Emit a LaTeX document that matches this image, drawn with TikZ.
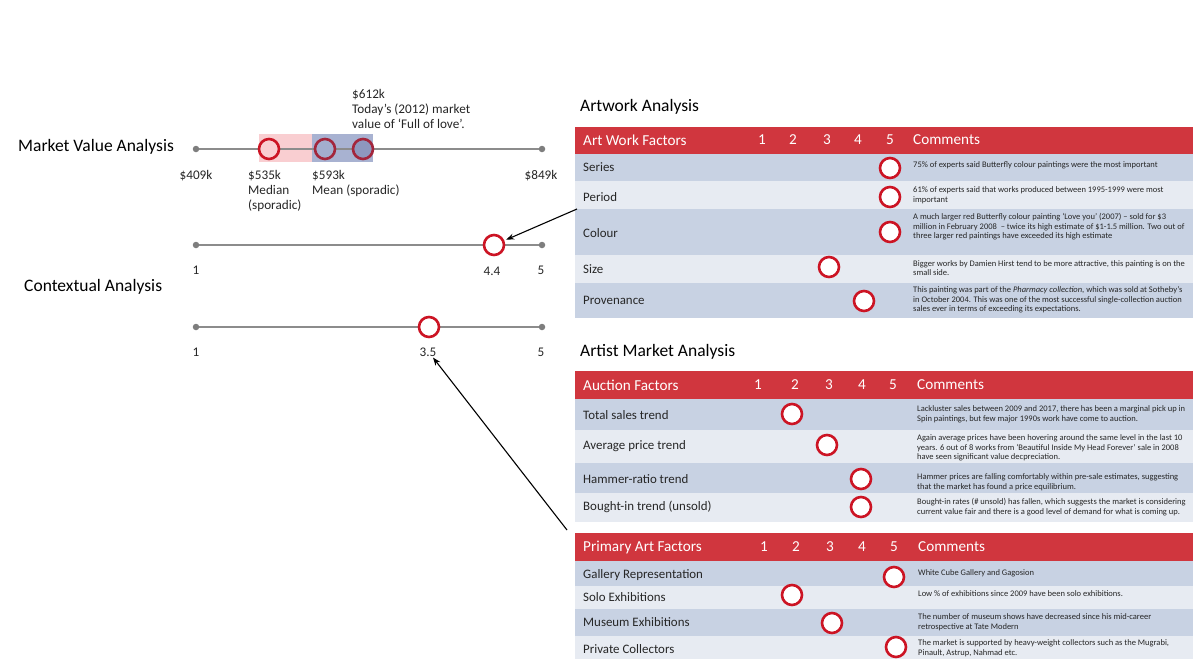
\documentclass[tikz,border=0pt]{standalone}
\usepackage{fontspec}
\setmainfont{Carlito}
\usetikzlibrary{arrows.meta}

\definecolor{hdr}{HTML}{D0363E}
\definecolor{rowA}{HTML}{C8D2E3}
\definecolor{rowB}{HTML}{E7EBF2}
\definecolor{ring}{HTML}{CC1424}
\definecolor{ringdark}{HTML}{A3263C}
\definecolor{axis}{HTML}{8C8C8C}
\definecolor{txt}{HTML}{262626}
\definecolor{pinkband}{HTML}{F9CED1}
\definecolor{blueband}{HTML}{A8B2D1}
\definecolor{bluefill}{HTML}{A3AECE}
\definecolor{bluefilldk}{HTML}{8E98BE}

\tikzset{
  title/.style={anchor=west, inner sep=0, font=\fontsize{17.5}{20}\selectfont, text=black},
  tick/.style={inner sep=0, font=\fontsize{13.2}{15}\selectfont, text=txt},
  dot/.style={circle, fill=axis!90!black, minimum size=6.5pt, inner sep=0},
  axisline/.style={draw=axis, line width=1.6pt},
  ringmark/.style={circle, draw=ring, line width=2.6pt, fill=white, minimum size=20pt, inner sep=0},
  band/.style={anchor=north west, minimum width=618pt, inner sep=0, outer sep=0},
  hdrbox/.style={band, fill=hdr},
  rowa/.style={band, fill=rowA},
  rowb/.style={band, fill=rowB},
  hdrtext/.style={anchor=west, inner sep=0, text=white, font=\fontsize{15.2}{18}\selectfont},
  factor/.style={anchor=west, inner sep=0, text=txt, font=\fontsize{12.9}{15}\selectfont},
  comment/.style={anchor=west, inner sep=0, align=left, text=txt, font=\fontsize{8.5}{9.6}\selectfont},
  pointer/.style={draw=black, line width=1.1pt, -{Stealth[length=8pt,width=6pt]}},
}

\begin{document}
\begin{tikzpicture}[x=1pt,y=-1pt]
\path[use as bounding box] (0,0) rectangle (1195,659);

% ---------------- Market value scale ----------------
\node[title] (mva) at (18,147) {Market Value Analysis};
\fill[pinkband] (259,134) rectangle (312,162);
\fill[blueband] (312,134) rectangle (373,162);
\node[dot] (m0) at (196,149) {};
\node[dot] (m1) at (542,149) {};
\draw[axisline] (m0) -- (m1);
\node[ringmark, fill=pinkband] (median) at (269,149) {};
\node[ringmark, draw=ringdark, fill=bluefill] (mean) at (325,149) {};
\node[ringmark, draw=ringdark, fill=bluefilldk] (today) at (363,149) {};

\node[tick, anchor=north] (l409) at (196,170) {\$409k};
\node[tick, anchor=north west, align=left] (l535) at (248,170) {\$535k\\Median\\(sporadic)};
\node[tick, anchor=north west, align=left] (l593) at (312,170) {\$593k\\Mean (sporadic)};
\node[tick, anchor=north] (l849) at (541,170) {\$849k};
\node[tick, anchor=south west, align=left] (l612) at (352,129) {\$612k\\Today’s (2012) market\\value of ‘Full of love’.};

% ---------------- Contextual scales ----------------
\node[title] (ca) at (24,287) {Contextual Analysis};

\node[dot] (a0) at (196,245) {};
\node[dot] (a1) at (542,245) {};
\draw[axisline] (a0) -- (a1);
\node[ringmark] (c44) at (494,245) {};
\node[tick] (a0l) at (196,270) {1};
\node[tick] (c44l) at (492,271) {4.4};
\node[tick] (a1l) at (541,270) {5};

\node[dot] (b0) at (196,327) {};
\node[dot] (b1) at (542,327) {};
\draw[axisline] (b0) -- (b1);
\node[ringmark] (c35) at (429,327) {};
\node[tick] (b0l) at (196,352) {1};
\node[tick] (c35l) at (428,352) {3.5};
\node[tick] (b1l) at (541,352) {5};

% ---------------- Artwork analysis table ----------------
\node[title] (aa) at (580,107) {Artwork Analysis};
\node[hdrbox, minimum height=27pt] (h1) at (575,127) {};
\node[hdrtext] at (583,140) {Art Work Factors};
\foreach \n/\x in {1/762,2/793,3/827,4/858,5/890}
  \node[hdrtext] at ([xshift=-4pt]\x,140) {\n};
\node[hdrtext] at (913,140) {Comments};

\node[rowa, minimum height=27pt] (series) at (575,154) {};
\node[rowb, minimum height=28pt] (period) at (575,181) {};
\node[rowa, minimum height=46pt] (colour) at (575,209) {};
\node[rowb, minimum height=28pt] (size) at (575,255) {};
\node[rowa, minimum height=35pt] (prov) at (575,283) {};

\node[factor] at (583,167) {Series};
\node[factor] at (583,197) {Period};
\node[factor] at (583,233) {Colour};
\node[factor] at (583,269) {Size};
\node[factor] at (583,300) {Provenance};

\node[ringmark] (s1) at (890,168) {};
\node[ringmark] (s2) at (890,197) {};
\node[ringmark] (s3) at (890,232) {};
\node[ringmark] (s4) at (829,267) {};
\node[ringmark] (s5) at (864,301) {};

\node[comment] at (913,165) {75\% of experts said Butterfly colour paintings were the most important};
\node[comment] at (913,195) {61\% of experts said that works produced between 1995-1999 were most\\important};
\node[comment] at (913,227) {A much larger red Butterfly colour painting ‘Love you’ (2007) – sold for \$3\\million in February 2008 \ – twice its high estimate of \$1-1.5 million. Two out of\\three larger red paintings have exceeded its high estimate};
\node[comment] at (913,268) {Bigger works by Damien Hirst tend to be more attractive, this painting is on the\\small side.};
\node[comment] at (913,300) {This painting was part of the \textit{Pharmacy collection}, which was sold at Sotheby’s\\in October 2004. This was one of the most successful single-collection auction\\sales ever in terms of exceeding its expectations.};

% ---------------- Artist market analysis: auction ----------------
\node[title] (ama) at (580,352) {Artist Market Analysis};
\node[hdrbox, minimum height=28pt] (h2) at (575,371) {};
\node[hdrtext] at (583,385) {Auction Factors};
\foreach \n/\x in {1/758,2/795,3/829,4/862,5/893}
  \node[hdrtext] at ([xshift=-4pt]\x,385) {\n};
\node[hdrtext] at (917,385) {Comments};

\node[rowa, minimum height=31pt] (total) at (575,399) {};
\node[rowb, minimum height=33pt] (avg) at (575,430) {};
\node[rowa, minimum height=30pt] (hammer) at (575,463) {};
\node[rowb, minimum height=29pt] (bought) at (575,493) {};

\node[factor] at (583,415) {Total sales trend};
\node[factor] at (583,446) {Average price trend};
\node[factor] at (583,479) {Hammer-ratio trend};
\node[factor] at (583,507) {Bought-in trend (unsold)};

\node[ringmark] (t1) at (792,414) {};
\node[ringmark] (t2) at (827,445) {};
\node[ringmark] (t3) at (861,479) {};
\node[ringmark] (t4) at (861,507) {};

\node[comment] at (917,414) {Lackluster sales between 2009 and 2017, there has been a marginal pick up in\\Spin paintings, but few major 1990s work have come to auction.};
\node[comment] at (917,448) {Again average prices have been hovering around the same level in the last 10\\years. 6 out of 8 works from ‘Beautiful Inside My Head Forever’ sale in 2008\\have seen significant value decpreciation.};
\node[comment] at (917,482) {Hammer prices are falling comfortably within pre-sale estimates, suggesting\\that the market has found a price equilibrium.};
\node[comment] at (917,507) {Bought-in rates (\# unsold) has fallen, which suggests the market is considering\\current value fair and there is a good level of demand for what is coming up.};

% ---------------- Artist market analysis: primary ----------------
\node[hdrbox, minimum height=28pt] (h3) at (575,533) {};
\node[hdrtext] at (583,547) {Primary Art Factors};
\foreach \n/\x in {1/764,2/796,3/830,4/862,5/894}
  \node[hdrtext] at ([xshift=-4pt]\x,547) {\n};
\node[hdrtext] at (918,547) {Comments};

\node[rowa, minimum height=25pt] (gallery) at (575,561) {};
\node[rowb, minimum height=23pt] (solo) at (575,586) {};
\node[rowa, minimum height=27pt] (museum) at (575,609) {};
\node[rowb, minimum height=23pt] (private) at (575,636) {};

\node[factor] at (583,575) {Gallery Representation};
\node[factor] at (583,597) {Solo Exhibitions};
\node[factor] at (583,622) {Museum Exhibitions};
\node[factor] at (583,649) {Private Collectors};

\node[ringmark] (p1) at (894,577) {};
\node[ringmark] (p2) at (792,595) {};
\node[ringmark] (p3) at (832,623) {};
\node[ringmark] (p4) at (896,647) {};

\node[comment] at (918,573) {White Cube Gallery and Gagosion};
\node[comment] at (918,594) {Low \% of exhibitions since 2009 have been solo exhibitions.};
\node[comment] at (918,622) {The number of museum shows have decreased since his mid-career\\retrospective at Tate Modern};
\node[comment] at (918,648) {The market is supported by heavy-weight collectors such as the Mugrabi,\\Pinault, Astrup, Nahmad etc.};

% ---------------- Pointers ----------------
\coordinate (pfrom) at ([xshift=-8pt,yshift=3pt]h3.north west);
\draw[pointer, shorten >=2pt] ([xshift=2pt]period.south west) -- (c44);
\draw[pointer] (pfrom) -- ([xshift=5pt,yshift=-1pt]c35l.south);
\end{tikzpicture}
\end{document}
